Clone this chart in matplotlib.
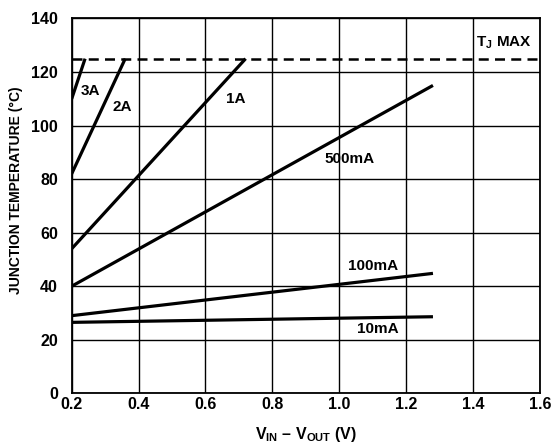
import matplotlib
matplotlib.use("Agg")
import matplotlib.pyplot as plt

plt.rcParams['font.family'] = ['Liberation Sans', 'DejaVu Sans']
plt.rcParams['font.weight'] = 'bold'
plt.rcParams['mathtext.fontset'] = 'custom'
plt.rcParams['mathtext.rm'] = 'Liberation Sans:bold'
plt.rcParams['mathtext.bf'] = 'Liberation Sans:bold'
plt.rcParams['mathtext.it'] = 'Liberation Sans:bold'

# (V_IN - V_OUT, junction temperature) end points per load current
curves = {
    '3A': ([0.2, 0.24], [110, 125]),
    '2A': ([0.2, 0.36], [82, 125]),
    '1A': ([0.2, 0.72], [54, 125]),
    '500mA': ([0.2, 1.28], [40, 115]),
    '100mA': ([0.2, 1.28], [29, 44.8]),
    '10mA': ([0.2, 1.28], [26.5, 28.6]),
}
label_pos = {
    '3A': (0.257, 113),
    '2A': (0.35, 107),
    '1A': (0.69, 110),
    '500mA': (1.03, 87.5),
    '100mA': (1.10, 47.5),
    '10mA': (1.115, 24),
}
tj_max = 125

fig = plt.figure(figsize=(5.59, 4.44), dpi=100)
ax = fig.add_axes([71.7 / 559, 1 - 393.3 / 444, (540 - 71.7) / 559, (393.3 - 18.5) / 444])

for name, (xs, ys) in curves.items():
    ax.plot(xs, ys, color='black', lw=2.3, solid_capstyle='butt')
    lx, ly = label_pos[name]
    ax.text(lx, ly, name, fontsize=11, fontweight='bold', ha='center', va='center')

ax.axhline(tj_max, color='black', lw=1.8, ls=(0, (4, 2.5)))
ax.text(1.493, 131, r'T$_\mathregular{J}$ MAX', fontsize=11, fontweight='bold',
        ha='center', va='center')

ax.set_xlim(0.2, 1.6)
ax.set_ylim(0, 140)
ax.set_xticks([0.2, 0.4, 0.6, 0.8, 1.0, 1.2, 1.4, 1.6])
ax.set_yticks(range(0, 141, 20))
ax.xaxis.set_major_formatter(matplotlib.ticker.FormatStrFormatter('%.1f'))
ax.tick_params(length=0, labelsize=11.5)
ax.tick_params(axis='x', pad=3)
ax.tick_params(axis='y', pad=10)
for lab in ax.get_xticklabels() + ax.get_yticklabels():
    lab.set_fontweight('bold')
ax.grid(True, color='black', lw=1.0)
for sp in ax.spines.values():
    sp.set_linewidth(1.3)

ax.set_ylabel('JUNCTION TEMPERATURE (°C)', fontsize=10, fontweight='bold')
ax.yaxis.set_label_coords(-0.105, 0.542)
ax.set_xlabel(r'V$_\mathregular{IN}$ – V$_\mathregular{OUT}$ (V)', fontsize=11.5,
              fontweight='bold')
ax.xaxis.set_label_coords(0.5, -0.084)

fig.savefig('out.png', dpi=100)
